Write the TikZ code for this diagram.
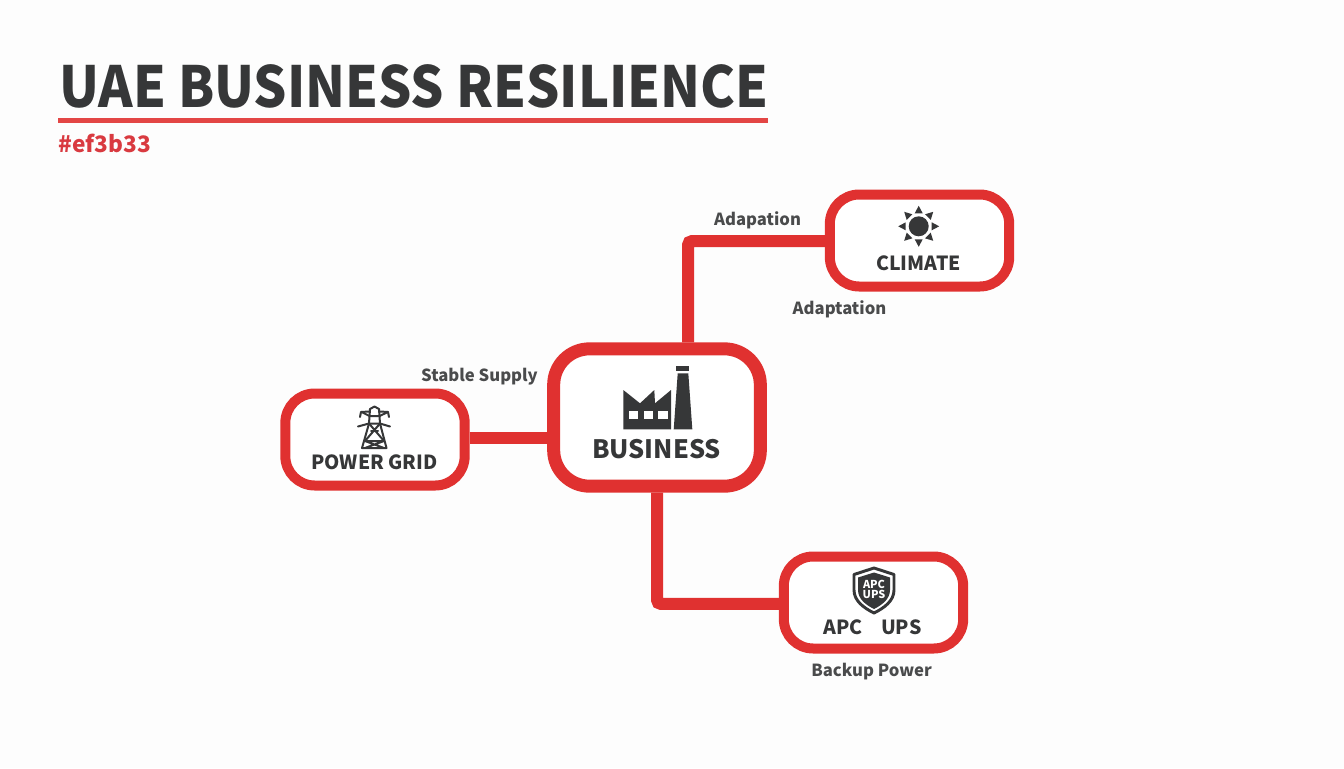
\documentclass[tikz,border=0pt]{standalone}
\usepackage{fontspec}
\setmainfont{Noto Sans CJK SC}
\usetikzlibrary{calc}
\definecolor{inkred}{HTML}{E03130}
\definecolor{inkdark}{HTML}{363738}
\definecolor{tagred}{HTML}{D93A40}
\definecolor{paper}{HTML}{FDFDFD}
\tikzset{
	bigbox/.style={draw=inkred, line width=9.75pt, fill=white, rounded corners=27pt, minimum width=155pt, minimum height=103pt, inner sep=0pt},
	smallbox/.style={draw=inkred, line width=7.5pt, fill=white, rounded corners=22pt, minimum width=134.5pt, minimum height=69pt, inner sep=0pt},
	wire/.style={draw=inkred, line width=9pt, rounded corners=3pt},
	boxtext/.style={text=inkdark, font=\bfseries\fontsize{14.6}{16}\selectfont, inner sep=0pt},
	note/.style={text=inkdark!90!white, font=\bfseries\fontsize{12.5}{15}\selectfont, inner sep=0pt},
}
\begin{document}
\begin{tikzpicture}[x=0.75pt, y=-0.75pt]
			%%%%% START %%%%%
			\fill[paper] (0, 0) rectangle (1344, 768);
			\useasboundingbox (0, 0) rectangle (1344, 768);

			\node[anchor=west, text=inkdark, font=\bfseries\fontsize{42.5}{46}\selectfont, inner sep=0pt] (title) at (59, 86) {\scalebox{0.924}[1]{UAE BUSINESS RESILIENCE}};
			\draw[line width=3.75pt, color=inkred!90!white] (58, 120) -- (768, 120);
			\node[anchor=west, text=tagred, font=\bfseries\fontsize{17}{20}\selectfont, inner sep=0pt] (tag) at (58, 143) {\#ef3b33};

			% boxes first, then the wires end on their borders
			\node[bigbox] (business) at (657, 417.5) {};
			\node[smallbox] (grid) at (375, 439.5) {};
			\node[smallbox] (climate) at (919.5, 240.5) {};
			\node[smallbox] (ups) at (873.5, 602.5) {};

			\draw[wire] ([xshift=23.25pt]business.north) |- ([yshift=-0.4pt]climate.west);
			\draw[wire] (business.south) |- ([yshift=-1.1pt]ups.west);
			\draw[wire, rounded corners=0pt] (grid.east |- 0, 438) -- (business.west |- 0, 438);

			\node[boxtext, font=\bfseries\fontsize{19}{22}\selectfont] (businesstext) at (656.5, 449) {BUSINESS};
			\node[boxtext] (gridtext) at (374.5, 462) {POWER GRID};
			\node[boxtext] (climatetext) at (918.5, 263.5) {CLIMATE};
			\node[boxtext] (upstext) at (872.5, 627) {APC\hspace{0.95em}UPS};

			\node[note] (adapationnote) at (757.5, 220) {Adapation};
			\node[note] (adaptationnote) at (839.5, 309.5) {Adaptation};
			\node[note] (supplynote) at (479.5, 377) {Stable Supply};
			\node[note] (backupnote) at (871.5, 672) {Backup Power};

			% factory
			\fill[inkdark] (623.3, 390) -- (640, 403.3) -- (654.3, 390) -- (655, 403.3) -- (671, 390) -- (671, 429.3) -- (623.3, 429.3) -- cycle;
			\fill[white] (629, 410.7) rectangle (638.3, 418.7);
			\fill[white] (644, 410.7) rectangle (653.3, 418.7);
			\fill[white] (658.3, 410.7) rectangle (667.7, 418.7);
			\fill[inkdark] (677.7, 373.3) -- (688.3, 373.3) -- (692.3, 429.3) -- (673.7, 429.3) -- cycle;
			\fill[inkdark] (676.3, 365.7) rectangle (689.3, 370.7);

			% pylon
			\begin{scope}[draw=inkdark, line width=1.5pt, line cap=round, line join=round]
				\draw (370, 409) -- (374.5, 406.5) -- (379, 409) (369.5, 416) -- (361.5, 412) (379.5, 416) -- (388, 412) (369.5, 416) -- (379.5, 416);
				\draw (360, 417) -- (361, 412) -- (369, 411.5) (389, 417) -- (388, 412) -- (380, 411.5);
				\draw (358, 426.5) -- (369, 423.5) -- (380, 423.5) -- (390, 426.5);
				\draw (370, 409) -- (369, 423.5) -- (362, 448) -- (386.5, 448) -- (380, 423.5) -- (379, 409);
				\draw (369, 423.5) -- (384, 441) -- (365, 448) (380, 423.5) -- (365, 441) -- (384, 448) (365, 441) -- (384, 441);
				\draw (371, 430.5) -- (378, 430.5);
			\end{scope}

			% sun
			\fill[inkdark] (918.7, 226.3) circle (10);
			\foreach \ang in {0, 45, ..., 315}
				\fill[inkdark, shift={(918.7, 226.3)}, rotate=\ang] (13, -4) -- (20.5, 0) -- (13, 4) -- cycle;

			% shield
			\draw[inkdark, line width=2.2pt, line join=round, fill=white] (874, 568) -- (894, 574.5) -- (894, 590) .. controls (894, 601) and (884, 608) .. (874, 613) .. controls (864, 608) and (854, 601) .. (854, 590) -- (854, 574.5) -- cycle;
			\fill[inkdark] (874, 572.5) -- (890, 577.5) -- (890, 590) .. controls (890, 599) and (882, 605) .. (874, 609) .. controls (866, 605) and (858, 599) .. (858, 590) -- (858, 577.5) -- cycle;
			\node[text=white, font=\bfseries\fontsize{8.2}{8}\selectfont, align=center, inner sep=0pt] (shieldtext) at (874, 589.5) {APC\\[0pt]UPS};
			%%%%% END %%%%%
\end{tikzpicture}
\end{document}
